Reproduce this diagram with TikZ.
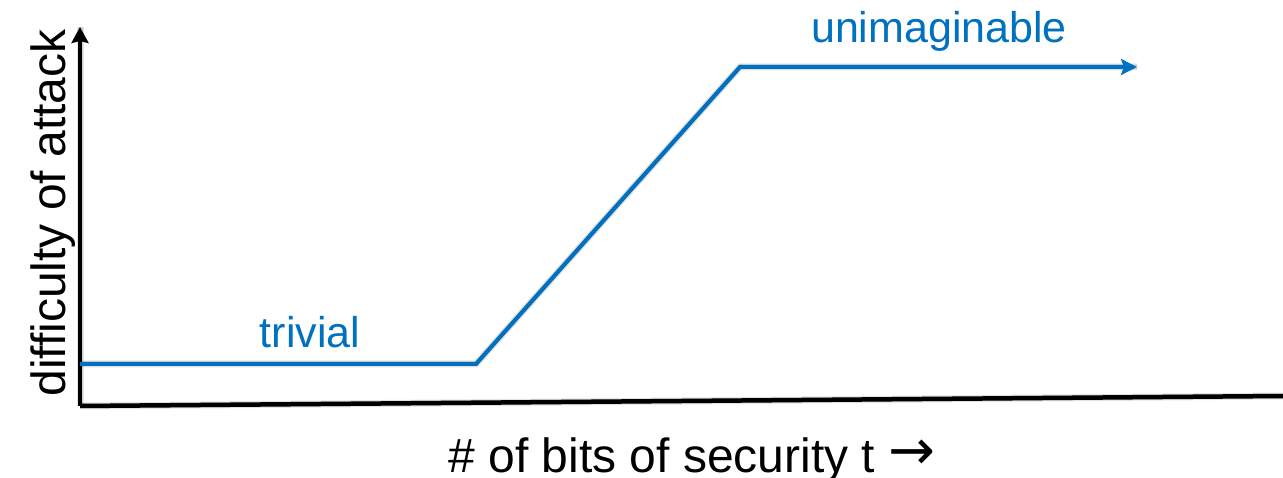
\documentclass[tikz,border=0pt]{standalone}
\usepackage{fontspec}
\setmainfont{Liberation Sans}
\newfontfamily\arrowfont{DejaVu Sans}
\usetikzlibrary{arrows.meta}
\definecolor{curveblue}{RGB}{0,112,192}
\begin{document}
\begin{tikzpicture}[x=1pt,y=-1pt,
  axisline/.style={line width=4.5pt,black},
  curveline/.style={line width=4pt,curveblue},
  softshadow/.style={line width=6pt,black,opacity=0.10},
  axislabel/.style={font=\fontsize{48}{52}\selectfont,text=black,inner sep=0pt,anchor=base},
  curvelabel/.style={font=\fontsize{43}{47}\selectfont,text=curveblue,inner sep=0pt,anchor=base}]
  \useasboundingbox (0,0) rectangle (1283,478);

  % axes corner, ends and curve corners
  \coordinate (o) at (80,406);
  \coordinate (ytop) at (80,27);
  \coordinate (xend) at (1283,396);
  \coordinate (p0) at (80,364);
  \coordinate (p1) at (476,364);
  \coordinate (p2) at (740,67);
  \coordinate (p3) at (1137,67);

  % soft drop shadows under the strokes
  \foreach \d/\w in {3/7,2/5}{
    \draw[softshadow,line width=\w pt,shift={(1,\d)}] (o) -- (xend);
    \draw[softshadow,line width=\w pt,shift={(2,\d)}] (o) -- (ytop);
    \draw[softshadow,line width=\w pt,shift={(1,\d)}] (p0) -- (p1) -- (p2) -- (p3);
  }

  % axes
  \draw[axisline,-{Stealth[length=16pt 0,width=17pt 0,inset=2pt]}] (o) -- (ytop);
  \draw[axisline,line cap=butt] (o) -- (xend);

  % difficulty curve
  \draw[curveline,-{Stealth[length=16pt 0,width=16pt 0,inset=3pt]}] (p0) -- (p1) -- (p2) -- (p3);

  % labels
  \node[curvelabel] (triv) at (310,348) {trivial};
  \node[curvelabel] (unim) at (939,43) {unimaginable};
  \node[axislabel,rotate=90] (ylab) at (65,213) {difficulty of attack};
  \node[axislabel] (xlab) at (692,472) {\# of bits of security t \raisebox{3pt}{\arrowfont\fontsize{56}{60}\selectfont →}};
\end{tikzpicture}
\end{document}
